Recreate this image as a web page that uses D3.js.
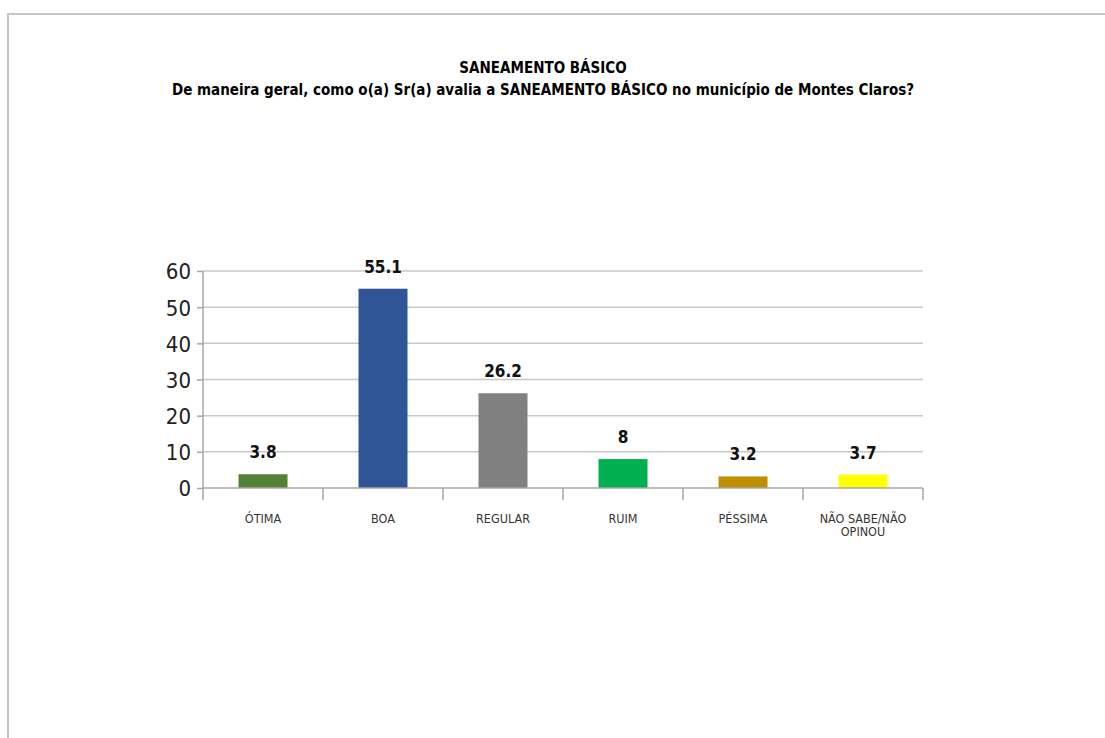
<!DOCTYPE html>
<html><head><meta charset="utf-8">
<script src="https://cdn.jsdelivr.net/npm/d3@7"></script>
<style>body{margin:0;background:#fff}svg{display:block}</style>
</head><body>
<script>
const categories = ["ÓTIMA","BOA","REGULAR","RUIM","PÉSSIMA","NÃO SABE/NÃO OPINOU"];
const values = [3.8, 55.1, 26.2, 8, 3.2, 3.7];
const colors = ["#538135","#2F5597","#808080","#00B050","#BF8F00","#FFFF00"];
const yTicks = [0,10,20,30,40,50,60];
const title1 = "SANEAMENTO BÁSICO";
const title2 = "De maneira geral, como o(a) Sr(a) avalia a SANEAMENTO BÁSICO no município de Montes Claros?";

const W = 1105, H = 738;
const svg = d3.select("body").append("svg").attr("width", W).attr("height", H);

// page frame
svg.append("line").attr("x1",7).attr("x2",W).attr("y1",14).attr("y2",14).attr("stroke","#c6c6c6").attr("stroke-width",2);
svg.append("line").attr("x1",8).attr("x2",8).attr("y1",13).attr("y2",H).attr("stroke","#c6c6c6").attr("stroke-width",2);

const font = "'Liberation Sans Narrow','DejaVu Sans Condensed','Liberation Sans',sans-serif";

svg.append("text").attr("x",543).attr("y",73).attr("text-anchor","middle")
  .attr("font-family",font).attr("font-weight","bold").attr("font-size",15).attr("fill","#000").text(title1);
svg.append("text").attr("x",543).attr("y",95).attr("text-anchor","middle")
  .attr("font-family",font).attr("font-weight","bold").attr("font-size",15).attr("fill","#000").text(title2);

const x = d3.scaleBand().domain(categories).range([203, 923]).paddingInner(0).paddingOuter(0);
const y = d3.scaleLinear().domain([0, 60]).range([488, 271]);

// gridlines
svg.append("g").selectAll("line").data(yTicks.filter(d=>d>0)).join("line")
  .attr("x1",203).attr("x2",923).attr("y1",d=>y(d)).attr("y2",d=>y(d))
  .attr("stroke","#c8c8c8").attr("stroke-width",1.5);

// y axis
const yAxis = svg.append("g").attr("transform","translate(203,0)")
  .call(d3.axisLeft(y).tickValues(yTicks).tickSize(6).tickPadding(6));
yAxis.select(".domain").attr("stroke","#a6a6a6").attr("stroke-width",1.5).attr("d","M0,271V488");
yAxis.selectAll(".tick line").attr("stroke","#a6a6a6").attr("stroke-width",1.5);
yAxis.selectAll(".tick text").attr("font-family",font).attr("font-size",22).attr("fill","#222").attr("dy","0.36em");

// bars
svg.append("g").selectAll("rect").data(values).join("rect")
  .attr("x",(d,i)=>x(categories[i]) + x.bandwidth()/2 - 24.5)
  .attr("width",49)
  .attr("y",d=>y(d)).attr("height",d=>y(0)-y(d))
  .attr("fill",(d,i)=>colors[i]);

// x axis
const xAxis = svg.append("g").attr("transform","translate(0,488)")
  .call(d3.axisBottom(x).tickSize(0).tickFormat(""));
xAxis.select(".domain").attr("stroke","#a6a6a6").attr("stroke-width",1.5).attr("d","M203,0H923");
// category boundary ticks
svg.append("g").selectAll("line").data(d3.range(categories.length+1)).join("line")
  .attr("x1",i=>203 + i*x.step()).attr("x2",i=>203 + i*x.step())
  .attr("y1",488).attr("y2",500).attr("stroke","#a6a6a6").attr("stroke-width",1.5);

// category labels
const catG = svg.append("g");
categories.forEach((c,i)=>{
  const cx = x(c) + x.bandwidth()/2;
  const lines = c === "NÃO SABE/NÃO OPINOU" ? ["NÃO SABE/NÃO","OPINOU"] : [c];
  lines.forEach((l,j)=>{
    catG.append("text").attr("x",cx).attr("y",523 + j*13).attr("text-anchor","middle")
      .attr("font-family",font).attr("font-size",12.5).attr("fill","#333").text(l);
  });
});

// value labels
svg.append("g").selectAll("text").data(values).join("text")
  .attr("x",(d,i)=>x(categories[i]) + x.bandwidth()/2)
  .attr("y",d=>y(d) - 16)
  .attr("text-anchor","middle")
  .attr("font-family",font).attr("font-weight","bold").attr("font-size",17).attr("fill","#111")
  .text(d=>d);
</script>
</body></html>
